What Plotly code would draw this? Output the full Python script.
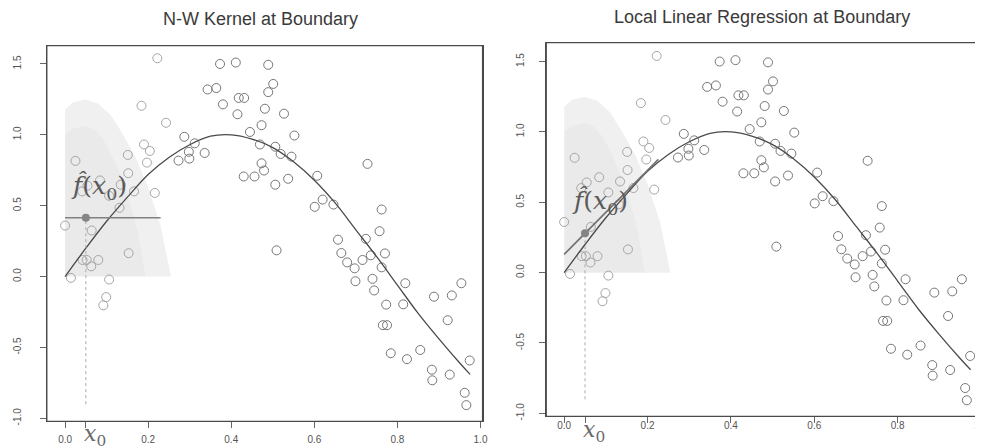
import plotly.graph_objects as go

# ---------------- data ----------------
pts_x = [0.222, 0.373, 0.411, 0.343, 0.364, 0.418, 0.431, 0.380, 0.415, 0.184,
         0.243, 0.445, 0.287, 0.312, 0.190, 0.204, 0.298, 0.336, 0.273, 0.299,
         0.151, 0.197, 0.025, 0.430, 0.152, 0.216, 0.134, 0.131, 0.000, 0.064,
         0.153, 0.041, 0.054, 0.084, 0.106, 0.166, 0.014, 0.042, 0.052, 0.063,
         0.080, 0.106, 0.099, 0.092, 0.489, 0.501, 0.489, 0.481, 0.527, 0.473,
         0.552, 0.469, 0.506, 0.519, 0.545, 0.473, 0.479, 0.456, 0.537, 0.506,
         0.607, 0.728, 0.601, 0.620, 0.646, 0.762, 0.757, 0.724, 0.657, 0.509,
         0.665, 0.770, 0.679, 0.716, 0.736, 0.697, 0.762, 0.699, 0.740, 0.744,
         0.819, 0.773, 0.814, 0.888, 0.931, 0.954, 0.921, 0.765, 0.775, 0.784,
         0.823, 0.855, 0.883, 0.884, 0.926, 0.974, 0.962, 0.966]
pts_y = [1.540, 1.500, 1.510, 1.320, 1.330, 1.260, 1.260, 1.215, 1.145, 1.205,
         1.085, 1.020, 0.986, 0.940, 0.932, 0.886, 0.880, 0.872, 0.818, 0.832,
         0.858, 0.804, 0.816, 0.706, 0.729, 0.590, 0.648, 0.485, 0.360, 0.325,
         0.165, 0.601, 0.641, 0.678, 0.570, 0.601, -0.009, 0.117, 0.117, 0.072,
         0.117, -0.021, -0.145, -0.203, 1.494, 1.359, 1.301, 1.184, 1.149, 1.068,
         0.995, 0.932, 0.916, 0.865, 0.846, 0.799, 0.748, 0.706, 0.690, 0.648,
         0.711, 0.795, 0.492, 0.543, 0.508, 0.473, 0.320, 0.266, 0.260, 0.185,
         0.166, 0.163, 0.100, 0.117, 0.150, 0.058, 0.065, -0.033, -0.016, -0.098,
         -0.047, -0.198, -0.196, -0.142, -0.133, -0.047, -0.308, -0.343, -0.343, -0.541,
         -0.583, -0.518, -0.657, -0.732, -0.692, -0.592, -0.820, -0.907]

# true curve
curve_x = [0.0, 0.05, 0.1, 0.15, 0.2, 0.25, 0.3, 0.35, 0.4, 0.45, 0.5,
           0.55, 0.6, 0.65, 0.7, 0.75, 0.8, 0.85, 0.9, 0.95, 0.975]
curve_y = [0.00, 0.20, 0.39, 0.56, 0.72, 0.84, 0.93, 0.99, 1.00, 0.97, 0.91,
           0.81, 0.68, 0.52, 0.33, 0.14, -0.06, -0.26, -0.44, -0.61, -0.69]

# target point and the two local fits
x0 = 0.05
nw_fit = 0.415                 # N-W estimate at x0 (constant over window)
nw_seg_x = [0.0, 0.23]
ll_fit = 0.28                  # local linear estimate at x0
ll_seg_x = [0.0, 0.226]
ll_seg_y = [0.13, 0.805]
drop_to = -0.90

# kernel-weight shading (outline)
shade_x = [0.0, 0.0, 0.02, 0.05, 0.08, 0.11, 0.14, 0.17, 0.20, 0.23, 0.255, 0.0]
shade_top = [0.0, 1.18, 1.23, 1.25, 1.22, 1.14, 1.00, 0.84, 0.63, 0.36, 0.0, 0.0]

x_ticks = [0.0, 0.05, 0.2, 0.4, 0.6, 0.8, 1.0]
x_ticktext = ["0.0", "", "0.2", "0.4", "0.6", "0.8", "1.0"]
y_ticks = [-1.0, -0.5, 0.0, 0.5, 1.0, 1.5]
y_ticktext = ["-1.0", "-0.5", "0.0", "0.5", "1.0", "1.5"]

titles = ["N-W Kernel at Boundary", "Local Linear Regression at Boundary"]

# ---------------- figure ----------------
fig = go.Figure()

pt_colors = ["#a5a5a5" if x < 0.25 else "#767676" for x in pts_x]

for k, (xa, ya) in enumerate([("x", "y"), ("x2", "y2")]):
    # shading, layered for a soft gradient
    for frac_w, frac_h, alpha in [(1.0, 1.0, 0.06), (0.7, 0.85, 0.025)]:
        sx = [x0 + (v - x0) * frac_w if v > x0 else v for v in shade_x]
        sy = [v * frac_h for v in shade_top]
        fig.add_trace(go.Scatter(x=sx, y=sy, xaxis=xa, yaxis=ya, mode="lines",
                                 fill="toself", fillcolor=f"rgba(0,0,0,{alpha})",
                                 line=dict(width=0), hoverinfo="skip",
                                 showlegend=False))
    # points
    fig.add_trace(go.Scatter(x=pts_x, y=pts_y, xaxis=xa, yaxis=ya, mode="markers",
                             marker=dict(symbol="circle-open", size=9,
                                         color=pt_colors, line=dict(width=1)),
                             showlegend=False))
    # true curve
    fig.add_trace(go.Scatter(x=curve_x, y=curve_y, xaxis=xa, yaxis=ya, mode="lines",
                             line=dict(color="#4a4a4a", width=1.3, shape="spline"),
                             showlegend=False))
    fit = nw_fit if k == 0 else ll_fit
    # vertical dotted drop line
    fig.add_trace(go.Scatter(x=[x0, x0], y=[drop_to, fit], xaxis=xa, yaxis=ya,
                             mode="lines", line=dict(color="#aaaaaa", width=1, dash="dot"),
                             showlegend=False))
    if k == 0:
        fig.add_trace(go.Scatter(x=nw_seg_x, y=[nw_fit, nw_fit], xaxis=xa, yaxis=ya,
                                 mode="lines", line=dict(color="#808080", width=1.6),
                                 showlegend=False))
    else:
        fig.add_trace(go.Scatter(x=ll_seg_x, y=ll_seg_y, xaxis=xa, yaxis=ya,
                                 mode="lines", line=dict(color="#707070", width=1.6),
                                 showlegend=False))
    fig.add_trace(go.Scatter(x=[x0], y=[fit], xaxis=xa, yaxis=ya, mode="markers",
                             marker=dict(symbol="circle", size=8, color="#858585"),
                             showlegend=False))
    # plot frame
    fig.add_shape(type="rect", xref=f"{xa} domain", yref=f"{ya} domain",
                  x0=0, x1=1, y0=0, y1=1, line=dict(color="#4a4a4a", width=1.3),
                  layer="above")

W, H = 983, 448
axis_common = dict(showgrid=False, zeroline=False, showline=True, mirror=True,
                   linecolor="#4a4a4a", linewidth=1.2, ticks="outside", ticklen=6,
                   tickcolor="#666666",
                   tickfont=dict(family="Liberation Sans", size=10, color="#555555"))

fig.update_layout(
    width=W, height=H, autosize=False,
    margin=dict(l=0, r=0, t=0, b=0),
    paper_bgcolor="white", plot_bgcolor="white",
    xaxis=dict(domain=[39 / W, 477 / W], range=[-0.044, 1.005],
               tickvals=x_ticks, ticktext=x_ticktext, anchor="y",
               ticklabelstandoff=3, **axis_common),
    yaxis=dict(domain=[(H - 417) / H, (H - 38) / H], range=[-1.021, 1.629],
               tickvals=y_ticks, ticktext=y_ticktext, tickangle=-90, anchor="x",
               ticklabelstandoff=15, **axis_common),
    xaxis2=dict(domain=[541 / W, 979 / W], range=[-0.043, 1.0024],
                tickvals=x_ticks, ticktext=x_ticktext, anchor="y2",
                ticklabelstandoff=-6, **axis_common),
    yaxis2=dict(domain=[(H - 412) / H, (H - 35) / H], range=[-1.021, 1.634],
                tickvals=y_ticks, ticktext=y_ticktext, tickangle=-90, anchor="x2",
                ticklabelstandoff=11, **axis_common),
)

title_font = dict(family="Liberation Sans", size=18, color="#3a3a3a")
fig.add_annotation(text=titles[0], xref="paper", yref="paper", x=254 / W,
                   y=1 - 11 / H, showarrow=False, font=title_font,
                   xanchor="center", yanchor="middle")
fig.add_annotation(text=titles[1], xref="paper", yref="paper", x=758 / W,
                   y=1 - 9 / H, showarrow=False, font=title_font,
                   xanchor="center", yanchor="middle")

math_font = dict(family="DejaVu Serif", size=25, color="#5a5a5a")
fig.add_annotation(text="<i>f̂</i>(<i>x</i><sub>0</sub>)", xref="x", yref="y",
                   x=0.082, y=0.63, showarrow=False, font=math_font)
fig.add_annotation(text="<i>f̂</i>(<i>x</i><sub>0</sub>)", xref="x2", yref="y2",
                   x=0.085, y=0.50, showarrow=False, font=math_font)
fig.add_annotation(text="<i>x</i><sub>0</sub>", xref="x", yref="paper",
                   x=x0, y=(H - 448) / H, xshift=9, showarrow=False,
                   font=dict(family="DejaVu Serif", size=22, color="#6a6a6a"))
fig.add_annotation(text="<i>x</i><sub>0</sub>", xref="x2", yref="paper",
                   x=x0, y=(H - 444) / H, xshift=9, showarrow=False,
                   font=dict(family="DejaVu Serif", size=22, color="#6a6a6a"))

fig.write_html("out.html")
